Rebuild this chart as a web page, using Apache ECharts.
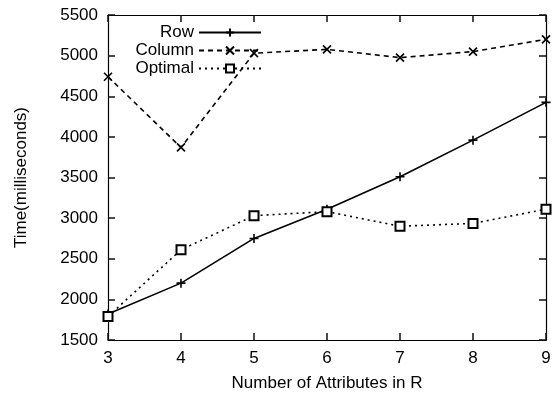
<!DOCTYPE html>
<html><head><meta charset="utf-8">
<script src="https://cdn.jsdelivr.net/npm/echarts@6/dist/echarts.min.js"></script>
<style>html,body{margin:0;padding:0;background:#fff}#c{width:554px;height:398px}</style>
</head><body><div id="c"></div>
<script>
const categories = [3, 4, 5, 6, 7, 8, 9];
const rowValues = [1820, 2200, 2750, 3110, 3510, 3960, 4425];
const columnValues = [4740, 3870, 5030, 5077, 4975, 5050, 5200];
const optimalValues = [1790, 2610, 3030, 3080, 2900, 2935, 3110];
const seriesNames = ['Row', 'Column', 'Optimal'];

const FONT = 'Liberation Sans, Arial, sans-serif';
const FS = 17;
const pair = vals => categories.map((c, i) => [c, vals[i]]);
const plusPath = 'path://M0,5 L10,5 M5,0 L5,10';
const xPath = 'path://M0,0 L10,10 M0,10 L10,0';

const chart = echarts.init(document.getElementById('c'), null, {renderer: 'canvas'});
function axisCommon() {
  return {
    axisLine: {show: true, lineStyle: {color: '#000', width: 1.2}},
    axisTick: {show: true, inside: true, length: 7, lineStyle: {color: '#111', width: 1.5}},
    splitLine: {show: false}
  };
}
function mkLegend(name, top) {
  return {
    data: [name], orient: 'vertical', align: 'right', right: 292, top: top,
    itemWidth: 62, itemHeight: 10, itemGap: 0, padding: 0,
    textStyle: {fontFamily: FONT, fontSize: FS, color: '#000'},
    selectedMode: false
  };
}
chart.setOption({
  animation: false,
  grid: {left: 108, right: 8, top: 15, bottom: 58},
  legend: [mkLegend('Row', 24), mkLegend('Column', 42), mkLegend('Optimal', 60)],
  xAxis: [
    Object.assign({type: 'value', min: 3, max: 9, interval: 1,
      name: 'Number of Attributes in R', nameLocation: 'middle', nameGap: 35,
      nameTextStyle: {fontFamily: FONT, fontSize: FS, color: '#000'},
      axisLabel: {fontFamily: FONT, fontSize: FS, color: '#000', margin: 10}}, axisCommon()),
    Object.assign({type: 'value', min: 3, max: 9, interval: 1, position: 'top',
      axisLabel: {show: false}}, axisCommon())
  ],
  yAxis: [
    Object.assign({type: 'value', min: 1500, max: 5500, interval: 500,
      name: 'Time(milliseconds)', nameLocation: 'middle', nameGap: 78,
      nameTextStyle: {fontFamily: FONT, fontSize: FS, color: '#000'},
      axisLabel: {fontFamily: FONT, fontSize: FS, color: '#000', margin: 10,
        formatter: v => String(v)}}, axisCommon()),
    Object.assign({type: 'value', min: 1500, max: 5500, interval: 500, position: 'right',
      axisLabel: {show: false}}, axisCommon())
  ],
  series: [
    {name: seriesNames[0], type: 'line', data: pair(rowValues),
      symbol: plusPath, symbolSize: 9,
      lineStyle: {color: '#000', width: 1.6, type: 'solid'},
      itemStyle: {color: '#000', borderColor: '#000', borderWidth: 1.6}},
    {name: seriesNames[1], type: 'line', data: pair(columnValues),
      symbol: xPath, symbolSize: 8,
      lineStyle: {color: '#000', width: 1.6, type: [5, 4]},
      itemStyle: {color: '#000', borderColor: '#000', borderWidth: 1.6}},
    {name: seriesNames[2], type: 'line', data: pair(optimalValues),
      symbol: 'emptyRect', symbolSize: 9,
      lineStyle: {color: '#000', width: 1.6, type: [2, 4]},
      itemStyle: {color: '#000', borderColor: '#000', borderWidth: 1.6}}
  ]
});
</script></body></html>
